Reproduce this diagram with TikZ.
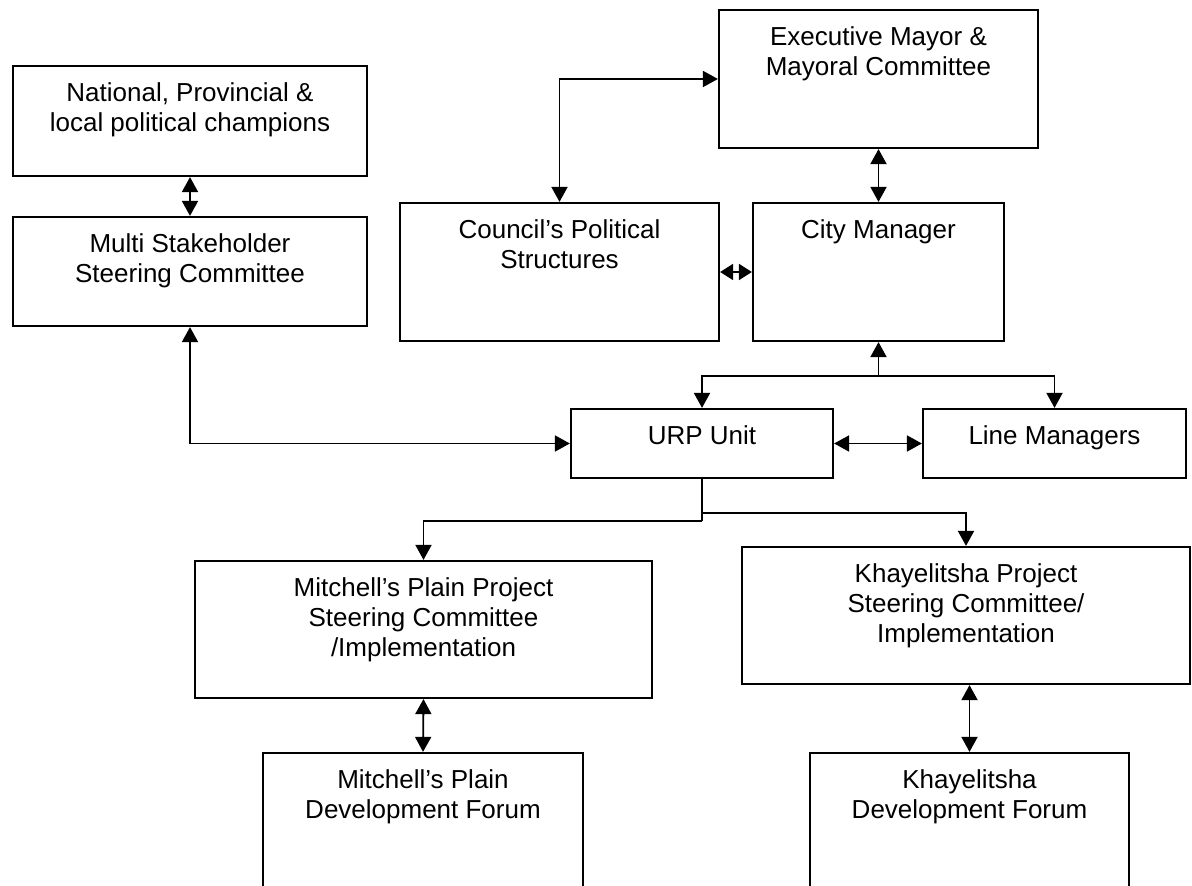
\documentclass[tikz,border=0pt]{standalone}
\usepackage{fontspec}
\setmainfont{Liberation Sans}
\usetikzlibrary{arrows.meta,positioning}
\tikzset{
    orgbox/.style={draw, rectangle, line width=1.1pt, inner sep=0pt},
    boxtext/.style={anchor=north, align=center, inner sep=0pt, yshift=-8.5pt,
        font=\fontsize{13}{15}\selectfont},
    link/.style={line width=0.9pt, -{Triangle[length=7.5pt,width=8pt]}},
    biway/.style={line width=0.9pt,
        {Triangle[length=7.5pt,width=8pt]}-{Triangle[length=7.5pt,width=8pt]}},
    shortway/.style={line width=0.9pt,
        {Triangle[length=6.5pt,width=8pt]}-{Triangle[length=6.5pt,width=8pt]}}
}

\begin{document}
\begin{tikzpicture}[x=0.5pt, y=-0.5pt]
    \clip (0,0) rectangle (1192,886);

    % Political side
    \node[orgbox, minimum width=177pt, minimum height=55pt,
        label={[boxtext]north:{National, Provincial \&\\local political champions}}] (natl) at (190,121) {};
    \node[orgbox, minimum width=177pt, minimum height=54.5pt,
        label={[boxtext]north:{Multi Stakeholder\\Steering Committee}}] (msc) at (190,271.5) {};
    \node[orgbox, minimum width=159.5pt, minimum height=69pt,
        label={[boxtext]north:{Executive Mayor \&\\Mayoral Committee}}] (mayor) at (878.5,79) {};
    \node[orgbox, minimum width=159.5pt, minimum height=69pt,
        label={[boxtext]north:{Council’s Political\\Structures}}] (council) at (559.5,272) {};
    \node[orgbox, minimum width=125.5pt, minimum height=69pt,
        label={[boxtext]north:{City Manager}}] (citymgr) at (878.5,272) {};

    % Administration
    \node[orgbox, minimum width=131pt, minimum height=34.5pt,
        label={[boxtext]north:{URP Unit}}] (urp) at (702,443.5) {};
    \node[orgbox, minimum width=131.5pt, minimum height=34.5pt,
        label={[boxtext]north:{Line Managers}}] (linemgr) at (1054.5,443.5) {};

    % Project nodes
    \node[orgbox, minimum width=228.5pt, minimum height=68.5pt,
        label={[boxtext]north:{Mitchell’s Plain Project\\Steering Committee\\/Implementation}}] (mpsc) at (423.5,629.5) {};
    \node[orgbox, minimum width=224pt, minimum height=68.5pt,
        label={[boxtext]north:{Khayelitsha Project\\Steering Committee/\\Implementation}}] (ksc) at (966,615.5) {};
    \node[orgbox, minimum width=160pt, minimum height=73.5pt,
        label={[boxtext]north:{Mitchell’s Plain\\Development Forum}}] (mpdf) at (423,826.5) {};
    \node[orgbox, minimum width=159.5pt, minimum height=73.5pt,
        label={[boxtext]north:{Khayelitsha\\Development Forum}}] (kdf) at (969.5,826.5) {};

    % Junction points
    \coordinate (cityjn) at ([yshift=-17pt]citymgr.south);
    \coordinate (urpjn) at ([yshift=-17pt]urp.south);
    \coordinate (urpjn2) at ([yshift=-21pt]urp.south);

    % Connectors
    \draw[biway] (natl.south) -- (msc.north);
    \draw[biway] (msc.south) |- (urp.west);
    \draw[biway] (council.north) |- (mayor.west);
    \draw[biway] (mayor.south) -- (citymgr.north);
    \draw[shortway] (council.east) -- (citymgr.west);
    \draw[link] (cityjn) -- (citymgr.south);
    \draw[link] (cityjn) -| (urp.north);
    \draw[link] (cityjn) -| (linemgr.north);
    \draw[biway] (urp.east) -- (linemgr.west);
    \draw[line width=0.9pt] (urp.south) -- (urpjn2);
    \draw[link] (urpjn) -| (ksc.north);
    \draw[link] (urpjn2) -| (mpsc.north);
    \draw[biway] (mpsc.south) -- (mpdf.north);
    \draw[biway] (kdf.north |- ksc.south) -- (kdf.north);
\end{tikzpicture}
\end{document}
